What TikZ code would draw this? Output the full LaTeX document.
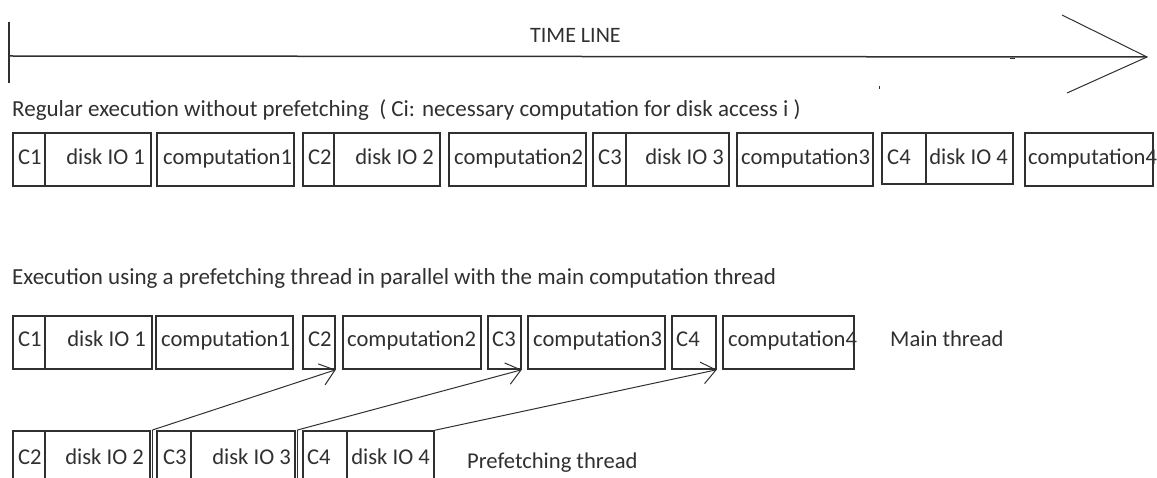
\documentclass[tikz,border=0pt]{standalone}
\usepackage{fontspec}
\setmainfont{Carlito}
\usetikzlibrary{arrows.meta,fit}
\definecolor{ink}{HTML}{303030}
\definecolor{edge}{HTML}{303030}
% a framed cell spanning two corner points
\newcommand\cellbox[5]{\node[cell, fit={(#2,#3) (#4,#5)}] (#1) {};}
\begin{document}
\begin{tikzpicture}[x=1pt,y=-1pt,
  lbl/.style={inner sep=0pt, text=ink, font=\fontsize{22.6}{27}\selectfont, anchor=base west},
  lble/.style={lbl, anchor=base east},
  head/.style={lbl, font=\fontsize{23}{27}\selectfont},
  cell/.style={draw=edge, line width=1.5pt, inner sep=0pt},
  conn/.style={draw=edge, line width=1pt, -{Straight Barb[length=14pt, width=22pt, line width=1pt]}},
  speck/.style={draw=edge, line width=1pt}]
\useasboundingbox (0,0) rectangle (1157,478);
\clip (0,0) rectangle (1157,478);

% time line
\coordinate (t0) at (9,56);
\coordinate (t1) at (1147,57);
\coordinate (tu) at (1062,15);
\coordinate (td) at (1067,93);
\draw[edge, line width=1.5pt] (9,22) -- (9,83);
\draw[edge, line width=1.5pt] (t0) -- (t1);
\draw[edge, line width=1pt] (tu) -- (t1) -- (td);
\node[lbl, font=\fontsize{22}{26}\selectfont] (tl) at (530,43) {TIME LINE};
\draw[speck] (1010,59) -- (1015,59);
\draw[speck] (879,86.5) -- (879,89);

% regular execution
\node[head] (hdr1) at (12,117) {Regular execution without prefetching \ ( Ci: necessary computation for disk access i )};
\cellbox{r1a-c}{13}{133}{45}{186}
\cellbox{r1a-d}{45}{133}{151}{186}
\cellbox{r1b}{157}{133}{294}{186}
\cellbox{r1c-c}{303}{133}{334}{186}
\cellbox{r1c-d}{334}{133}{440}{186}
\cellbox{r1d}{449}{133}{586}{186}
\cellbox{r1e-c}{593}{133}{626}{186}
\cellbox{r1e-d}{626}{133}{729}{186}
\cellbox{r1f}{737}{133}{873}{186}
\cellbox{r1g-c}{882}{133}{926}{184}
\cellbox{r1g-d}{926}{133}{1013}{184}
\cellbox{r1h}{1025}{133}{1153}{186}
\node[lbl]  (x1a) at (18,165) {C1};
\node[lble] (y1a) at (145,165) {disk IO 1};
\node[lbl]  (x1b) at (163,165) {computation1};
\node[lbl]  (x1c) at (308,165) {C2};
\node[lble] (y1c) at (434,165) {disk IO 2};
\node[lbl]  (x1d) at (454,165) {computation2};
\node[lbl]  (x1e) at (598,165) {C3};
\node[lble] (y1e) at (724,165) {disk IO 3};
\node[lbl]  (x1f) at (741,165) {computation3};
\node[lbl]  (x1g) at (887,165) {C4};
\node[lble] (y1g) at (1008,165) {disk IO 4};
\node[lbl]  (x1h) at (1028,165) {computation4};

% execution with a prefetching thread
\node[head] (hdr2) at (12,285) {Execution using a prefetching thread in parallel with the main computation thread};
\cellbox{r2a-c}{13}{316}{45}{369}
\cellbox{r2a-d}{45}{316}{152}{369}
\cellbox{r2b}{156}{316}{293}{369}
\cellbox{r2c}{303}{316}{335}{369}
\cellbox{r2d}{343}{316}{481}{369}
\cellbox{r2e}{488}{316}{521}{369}
\cellbox{r2f}{528}{316}{665}{369}
\cellbox{r2g}{672}{316}{716}{369}
\cellbox{r2h}{723}{316}{854}{369}
\node[lbl]  (x2a) at (18,347) {C1};
\node[lble] (y2a) at (146,347) {disk IO 1};
\node[lbl]  (x2b) at (161,347) {computation1};
\node[lbl]  (x2c) at (308,347) {C2};
\node[lbl]  (x2d) at (347,347) {computation2};
\node[lbl]  (x2e) at (492,347) {C3};
\node[lbl]  (x2f) at (533,347) {computation3};
\node[lbl]  (x2g) at (676,347) {C4};
\node[lbl]  (x2h) at (728,347) {computation4};
\node[lbl]  (main) at (890,347) {Main thread};

\cellbox{r3a-c}{13}{431}{45}{485}
\cellbox{r3a-d}{45}{431}{150}{485}
\cellbox{r3b-c}{157}{431}{191}{485}
\cellbox{r3b-d}{191}{431}{295}{485}
\cellbox{r3c-c}{303}{431}{347}{485}
\cellbox{r3c-d}{347}{431}{434}{485}
\node[lbl]  (x3a) at (18,464) {C2};
\node[lble] (y3a) at (144,464) {disk IO 2};
\node[lbl]  (x3b) at (163,464) {C3};
\node[lble] (y3b) at (291,464) {disk IO 3};
\node[lbl]  (x3c) at (307,464) {C4};
\node[lble] (y3c) at (430,464) {disk IO 4};
\node[lbl]  (pref) at (467,468) {Prefetching thread};

% start bars of the prefetch hand-offs
\coordinate (s1) at (152.5,430);
\coordinate (s2) at (297.5,430);
\draw[edge, line width=1pt] (s1) -- ++(0,60);
\draw[edge, line width=1pt] (s2) -- ++(0,60);

% prefetched data handed to the main thread
\draw[conn] (s1) -- (r2c.south east);
\draw[conn] (s2) -- (r2e.south east);
\draw[conn] (r3c-d.north east) -- (r2g.south east);
\end{tikzpicture}
\end{document}
